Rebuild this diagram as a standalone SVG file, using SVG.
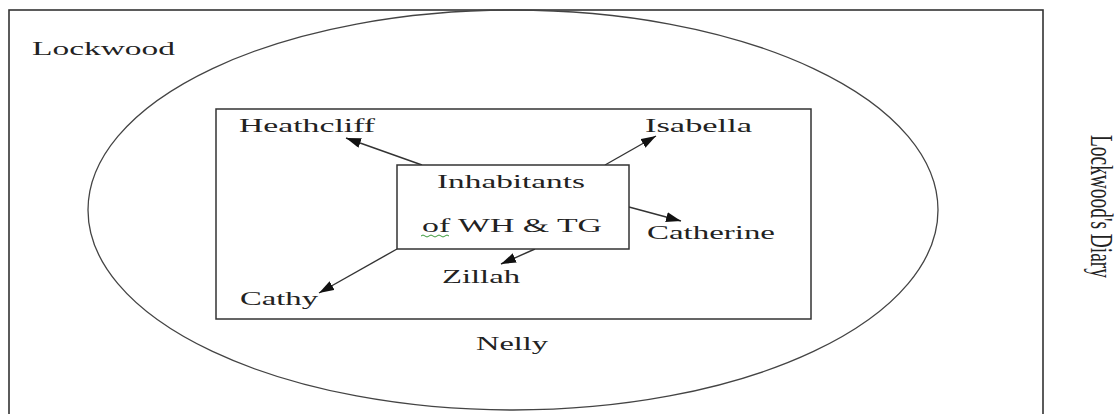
<svg xmlns="http://www.w3.org/2000/svg" width="1120" height="414" viewBox="0 0 1120 414">
  <style>
    .frame { fill: none; stroke: #333; stroke-width: 1.6; }
    .oval { fill: none; stroke: #444; stroke-width: 1.3; }
    .box { fill: #fff; stroke: #333; stroke-width: 1.5; }
    .label { font-family: "Liberation Serif", "Times New Roman", serif; font-size: 18px; fill: #222; }
    .link { fill: none; stroke: #333; stroke-width: 1.4; marker-end: url(#head); }
  </style>
  <defs>
    <marker id="head" markerUnits="userSpaceOnUse" markerWidth="16" markerHeight="12" refX="15" refY="5" orient="auto">
      <path d="M0,0 L15,5 L0,10 Z" fill="#111"/>
    </marker>
  </defs>
  <rect width="1120" height="414" fill="#fff"/>

  <!-- diary page border -->
  <g id="diary">
    <rect class="frame" x="9" y="10" width="1034" height="412"/>
    <text class="label" x="32" y="55" textLength="143" lengthAdjust="spacingAndGlyphs">Lockwood</text>
    <text class="label" transform="translate(1091,135) scale(1.8,1) rotate(90)" textLength="143" lengthAdjust="spacingAndGlyphs">Lockwood's Diary</text>
  </g>

  <!-- Nelly's narrative -->
  <g id="nelly">
    <ellipse class="oval" cx="513" cy="210" rx="425" ry="200"/>
    <text class="label" x="476" y="350" textLength="72" lengthAdjust="spacingAndGlyphs">Nelly</text>
  </g>

  <!-- inner household frame -->
  <g id="household">
    <rect class="box" x="216" y="109" width="595" height="210"/>
  </g>

  <g id="connectors">
    <line class="link" x1="422" y1="165" x2="346" y2="138"/>
    <line class="link" x1="605" y1="165" x2="656" y2="136"/>
    <line class="link" x1="629" y1="207" x2="681" y2="221"/>
    <line class="link" x1="535" y1="249" x2="501" y2="264"/>
    <line class="link" x1="397" y1="249" x2="319" y2="293"/>
  </g>

  <g id="inhabitants">
    <rect class="box" x="397" y="165" width="232" height="84"/>
    <text class="label" x="437" y="188" textLength="148" lengthAdjust="spacingAndGlyphs">Inhabitants</text>
    <text class="label" x="422" y="232" textLength="180" lengthAdjust="spacingAndGlyphs">of WH &amp; TG</text>
    <path d="M421,236 q2,-2 4,0 t4,0 t4,0 t4,0 t4,0 t4,0 t4,0" fill="none" stroke="#3a9a3a" stroke-width="1"/>
  </g>

  <g id="heathcliff">
    <text class="label" x="239" y="132" textLength="136" lengthAdjust="spacingAndGlyphs">Heathcliff</text>
  </g>
  <g id="isabella">
    <text class="label" x="645" y="132" textLength="107" lengthAdjust="spacingAndGlyphs">Isabella</text>
  </g>
  <g id="catherine">
    <text class="label" x="647" y="239" textLength="128" lengthAdjust="spacingAndGlyphs">Catherine</text>
  </g>
  <g id="zillah">
    <text class="label" x="442" y="283" textLength="78" lengthAdjust="spacingAndGlyphs">Zillah</text>
  </g>
  <g id="cathy">
    <text class="label" x="240" y="305" textLength="78" lengthAdjust="spacingAndGlyphs">Cathy</text>
  </g>
</svg>
